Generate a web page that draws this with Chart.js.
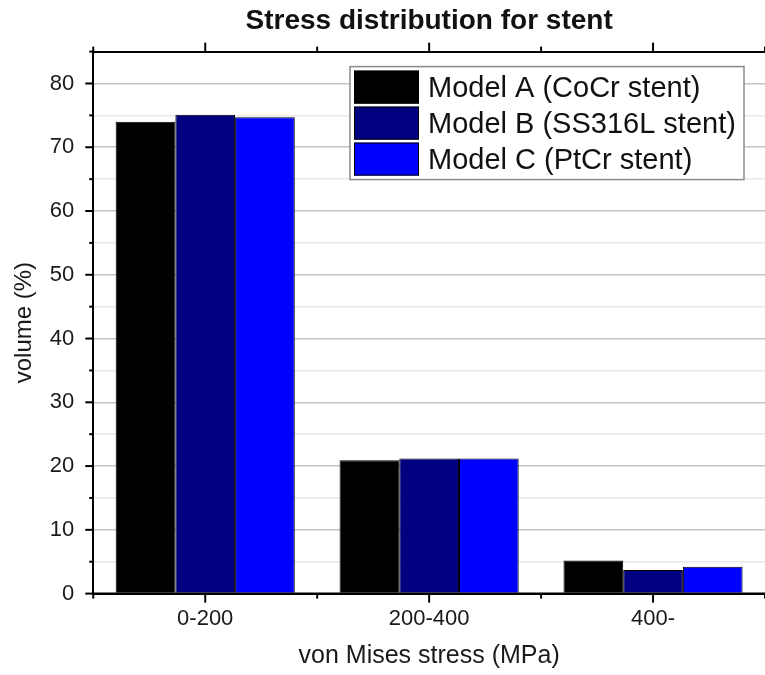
<!DOCTYPE html>
<html>
<head>
<meta charset="utf-8">
<script src="https://cdn.jsdelivr.net/npm/chart.js@4.4.1/dist/chart.umd.min.js"></script>
<style>
  html, body { margin: 0; padding: 0; background: #ffffff; overflow: hidden; }
  #wrap { width: 765px; height: 675px; }
</style>
</head>
<body>
<div id="wrap"><canvas id="chart" width="765" height="675"></canvas></div>
<script>
// Datos
const categories = ['0-200', '200-400', '400-'];
const modelA = [74.0, 20.9, 5.2];
const modelB = [75.1, 21.2, 3.7];
const modelC = [74.7, 21.2, 4.2];
const seriesNames = ['Model A (CoCr stent)', 'Model B (SS316L stent)', 'Model C (PtCr stent)'];
const seriesColors = ['#000000', '#000080', '#0000ff'];
const yTicks = [0, 10, 20, 30, 40, 50, 60, 70, 80];

const FONT = "'Liberation Sans', Arial, sans-serif";

/**
 * Marcas de eje (mayores y menores) y línea base sobre las barras
 */
const axisMarks = {
    id: 'axisMarks',
    afterDatasetsDraw(chart) {
        const { ctx, chartArea: a, scales: { x, y } } = chart;
        ctx.save();
        ctx.strokeStyle = '#000';
        ctx.lineWidth = 2;
        const line = (x1, y1, x2, y2) => {
            ctx.beginPath();
            ctx.moveTo(x1, y1);
            ctx.lineTo(x2, y2);
            ctx.stroke();
        };
        // eje y: mayores cada 10, menores cada 5
        for (let v = 0; v <= 85; v += 5) {
            const py = y.getPixelForValue(v);
            const len = v % 10 === 0 ? 8 : 4;
            line(a.left - len, py, a.left, py);
        }
        // eje x: mayores en el centro de cada categoría, menores en los bordes
        categories.forEach((c, i) => {
            const px = x.getPixelForValue(i);
            line(px, a.bottom, px, a.bottom + 9);
            line(px, a.top, px, a.top - 9);
        });
        for (let i = 0; i <= categories.length; i++) {
            const px = x.getPixelForValue(i - 0.5);
            line(px, a.bottom, px, a.bottom + 5);
            line(px, a.top, px, a.top - 5);
        }
        // línea base
        line(a.left - 1, a.bottom, a.right + 1, a.bottom);
        ctx.restore();
    }
};

/**
 * Leyenda dibujada dentro del área del gráfico
 */
const insideLegend = {
    id: 'insideLegend',
    afterDraw(chart) {
        const { ctx, chartArea: a } = chart;
        const right = a.right - 21;
        const top = a.top + 15;
        const boxW = 394;
        const boxH = 113;
        const left = right - boxW;
        ctx.save();
        ctx.fillStyle = '#fff';
        ctx.fillRect(left, top, boxW, boxH);
        ctx.strokeStyle = '#8a8a8a';
        ctx.lineWidth = 1.5;
        ctx.strokeRect(left, top, boxW, boxH);
        ctx.font = '29px ' + FONT;
        ctx.textBaseline = 'middle';
        chart.data.datasets.forEach((ds, i) => {
            const sy = top + 4 + i * 36;
            ctx.fillStyle = ds.backgroundColor;
            ctx.fillRect(left + 4, sy, 65, 33);
            ctx.strokeStyle = '#000';
            ctx.lineWidth = 1;
            ctx.strokeRect(left + 4.5, sy + 0.5, 64, 32);
            ctx.fillStyle = '#111';
            ctx.fillText(ds.label, left + 78, sy + 18);
        });
        ctx.restore();
    }
};

const datasets = [modelA, modelB, modelC].map((values, i) => ({
    label: seriesNames[i],
    data: values,
    backgroundColor: seriesColors[i],
    borderColor: '#000',
    borderWidth: 1,
    categoryPercentage: 0.8,
    barPercentage: 1.0
}));

new Chart(document.getElementById('chart'), {
    type: 'bar',
    data: { labels: categories, datasets: datasets },
    options: {
        responsive: false,
        devicePixelRatio: 1,
        animation: false,
        layout: { padding: { top: 4, left: 10, right: 0, bottom: 4 } },
        plugins: {
            legend: { display: false },
            title: { display: false },
            tooltip: { enabled: false }
        },
        scales: {
            x: {
                type: 'category',
                offset: true,
                grid: { display: false },
                border: { display: true, color: '#000', width: 2 },
                ticks: { color: '#1a1a1a', font: { family: FONT, size: 22 }, padding: 4 },
                title: {
                    display: true,
                    text: 'von Mises stress (MPa)',
                    color: '#1a1a1a',
                    font: { family: FONT, size: 25 },
                    padding: { top: 5, bottom: 0 }
                }
            },
            x2: {
                type: 'category',
                position: 'top',
                labels: categories,
                offset: true,
                grid: { display: false },
                border: { display: true, color: '#000', width: 2 },
                ticks: { display: false },
                title: {
                    display: true,
                    text: 'Stress distribution for stent',
                    color: '#111',
                    font: { family: FONT, size: 28, weight: 'bold' },
                    padding: { top: 0, bottom: 6 }
                }
            },
            y: {
                min: 0,
                max: 85,
                ticks: {
                    stepSize: 5,
                    color: '#1a1a1a',
                    font: { family: FONT, size: 22 },
                    padding: 19,
                    callback: (value) => yTicks.includes(value) ? value : ''
                },
                grid: {
                    drawTicks: false,
                    color: (ctx) => (ctx.tick && ctx.tick.value % 10 === 0) ? '#c4c4c4' : '#e8e8e8',
                    lineWidth: 1.5
                },
                border: { display: true, color: '#000', width: 2 },
                title: {
                    display: true,
                    text: 'volume (%)',
                    color: '#1a1a1a',
                    font: { family: FONT, size: 24 },
                    padding: { top: 0, bottom: -8 }
                }
            }
        }
    },
    plugins: [axisMarks, insideLegend]
});
</script>
</body>
</html>
